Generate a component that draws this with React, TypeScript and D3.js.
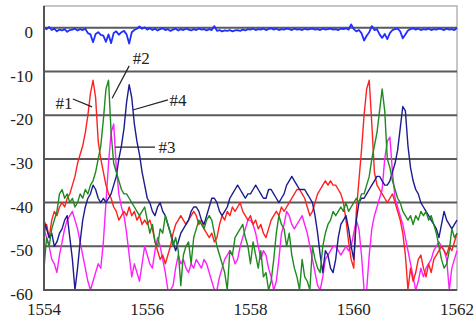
import { useEffect, useRef } from "react";
import * as d3 from "d3";

// wavelength grid of the traces (nm)
const wlStart = 1554;
const wlStep = 0.05;

const xTicks = [1554, 1556, 1558, 1560, 1562];
const yTicks = [0, -10, -20, -30, -40, -50, -60];

// top trace, near 0 dB
const blueTrace = [
  0, -0.3, 0.2, -0.5, -0.2, -0.8, -0.4, -0.6, -0.3, -0.9, -0.5, -0.4, -0.2, -0.6, -0.3, -0.5, -0.2, -1.2, -1.5, -3.3,
  -1.4, -1.0, -1.6, -1.8, -3.2, -1.5, -3.5, -1.2, -0.8, -1.6, -1.0, -0.7, -1.5, -3.6, -1.0, -0.5, -0.2, 0.3, -0.2, 0.1,
  -0.4, -0.1, -0.5, -0.2, -0.6, -0.3, -0.1, -0.5, -0.3, -0.7, -0.4, -0.2, -0.6, -0.3, -0.5, -0.2, -0.4, -0.6, -0.3, -0.5,
  -0.2, -0.4, -0.3, -0.6, -0.3, -0.5, 0.4, -0.7, -0.5, -0.8, -0.6, -0.7, -0.5, -0.8, -0.6, -0.5, -0.7, -0.4, -0.6, -0.3,
  -0.4, -0.2, -0.5, -0.3, -0.4, -0.2, -0.5, -0.3, -0.1, -0.4, -0.2, -0.5, -0.3, -0.4, -0.2, -0.3, -0.5, -0.2, -0.4, -0.3,
  -0.5, -0.2, -0.4, -0.3, -0.2, -0.4, -0.3, -0.5, -0.2, -0.4, -0.3, -0.2, -0.4, -0.3, -0.5, -0.2, -0.3, -0.1, -0.4, 0.8,
  -0.3, -0.8, -0.5, -1.2, -2.9, -1.8, -1.0, 0.4, -0.5, -0.3, -1.5, -2.3, -1.4, -2.6, -1.2, -0.5, -0.3, -0.2, -0.8, -2.4,
  -1.5, -0.6, -0.3, -0.1, -0.4, -0.2, -0.5, -0.3, -0.4, -0.2, -0.5, -0.3, -0.4, -0.2, -0.3, -0.5, -0.2, -0.4, -0.3, -0.5,
  0,
];

// #1
const redTrace = [
  -47, -45, -48, -44, -42, -43, -41, -40, -41, -39, -38, -36, -34, -31, -29, -27, -24, -20, -15, -12,
  -16, -26, -30, -33, -36, -38, -39, -41, -42, -44, -43, -42, -43, -41, -43, -42, -44, -43, -45, -44,
  -45, -44, -46, -49, -51, -53, -52, -54, -52, -50, -47, -45, -44, -43, -44, -45, -44, -43, -42, -43,
  -45, -44, -46, -47, -48, -47, -49, -48, -45, -43, -44, -42, -43, -41, -42, -41, -40, -42, -43, -44,
  -43, -45, -44, -46, -45, -47, -48, -46, -44, -43, -42, -43, -41, -42, -41, -40, -39, -38, -37, -37,
  -38, -39, -41, -43, -42, -40, -38, -37, -36, -35, -36, -35, -36, -36, -37, -38, -40, -44, -49, -53,
  -55, -42, -35, -28, -20, -14, -12, -22, -33, -36, -37, -38, -39, -40, -39, -38, -40, -42, -44, -47,
  -52, -60, -55, -58, -56, -53, -52, -55, -57, -54, -56, -53, -52, -51, -50, -51, -52, -50, -51, -49,
  -47,
];

// #2
const greenTrace = [
  -55, -48, -50, -46, -44, -42, -38, -37, -39, -38, -40, -39, -41, -40, -38, -39, -37, -38, -36, -35,
  -33, -30, -27, -21, -14, -12, -24, -31, -33, -35, -37, -38, -38, -39, -40, -41, -42, -43, -42, -41,
  -44, -47, -45, -49, -50, -46, -47, -43, -45, -47, -50, -48, -51, -59, -52, -50, -49, -54, -48, -46,
  -44, -45, -46, -44, -43, -44, -47, -50, -52, -54, -56, -60, -51, -52, -48, -47, -46, -45, -48, -50,
  -54, -49, -52, -55, -51, -57, -56, -60, -58, -53, -47, -43, -45, -46, -50, -47, -52, -55, -57, -60,
  -53, -57, -58, -60, -50, -53, -55, -56, -50, -47, -45, -44, -42, -43, -42, -41, -42, -40, -42, -41,
  -40, -39, -40, -38, -38, -36, -34, -30, -27, -24, -19, -14, -19, -30, -32, -35, -37, -39, -40, -42,
  -43, -44, -43, -45, -43, -44, -42, -43, -42, -44, -43, -45, -47, -50, -53, -55, -54, -51, -46, -48,
  -47,
];

// #3
const magentaTrace = [
  -46, -48, -50, -53, -54, -56, -52, -49, -46, -44, -43, -42, -44, -46, -49, -52, -55, -58, -60, -58,
  -56, -54, -55, -49, -40, -31, -24, -22, -32, -38, -41, -43, -47, -52, -57, -54, -56, -58, -54, -50,
  -52, -54, -55, -51, -48, -50, -53, -56, -60, -60, -59, -55, -52, -54, -53, -55, -56, -54, -55, -53,
  -54, -55, -53, -54, -56, -58, -60, -60, -57, -55, -53, -52, -51, -52, -54, -53, -50, -48, -46, -44,
  -44, -45, -47, -50, -53, -51, -52, -55, -57, -60, -58, -53, -47, -45, -42, -43, -45, -46, -45, -44,
  -43, -45, -47, -50, -53, -56, -59, -60, -57, -53, -52, -51, -50, -50, -51, -52, -51, -50, -51, -50,
  -47, -44, -46, -52, -60, -60, -52, -46, -43, -41, -39, -37, -30, -26, -25, -33, -39, -41, -43, -45,
  -48, -51, -54, -57, -60, -58, -55, -57, -55, -54, -53, -51, -50, -49, -50, -51, -53, -60, -55, -53,
  -51,
];

// #4
const navyTrace = [
  -44, -46, -48, -47, -50, -49, -47, -46, -44, -43, -48, -53, -60, -55, -49, -44, -41, -39, -38, -36,
  -37, -39, -40, -39, -40, -39, -38, -36, -34, -30, -27, -23, -17, -13, -16, -22, -26, -29, -33, -36,
  -39, -40, -42, -43, -41, -40, -42, -43, -45, -47, -49, -51, -49, -47, -46, -45, -44, -42, -41, -41,
  -42, -44, -45, -43, -41, -39, -39, -40, -42, -43, -42, -41, -39, -38, -37, -36, -37, -38, -39, -38,
  -38, -37, -36, -37, -38, -39, -39, -37, -37, -38, -39, -40, -39, -38, -36, -35, -34, -35, -36, -37,
  -37, -37, -38, -39, -40, -43, -47, -52, -56, -51, -52, -55, -56, -53, -48, -45, -44, -43, -46, -50,
  -53, -44, -40, -39, -39, -38, -37, -36, -35, -34, -34, -35, -36, -36, -35, -33, -31, -28, -23, -18,
  -19, -27, -32, -35, -37, -38, -40, -41, -42, -43, -44, -45, -46, -48, -45, -42, -44, -45, -46, -45,
  -44,
];

const W = 474;
const H = 320;

export default function App() {
  const ref = useRef<SVGSVGElement | null>(null);

  useEffect(() => {
    if (!ref.current) return;
    const svg = d3.select(ref.current);
    svg.selectAll("*").remove();

    const x = d3.scaleLinear().domain([1554, 1562]).range([44, 457]);
    const y = d3.scaleLinear().domain([-60, 5]).range([290, 6]);
    const font = "'Liberation Serif', 'Times New Roman', serif";

    // frame (light top/right)
    svg
      .append("rect")
      .attr("x", x(1554))
      .attr("y", y(5))
      .attr("width", x(1562) - x(1554))
      .attr("height", y(-60) - y(5))
      .attr("fill", "#fff")
      .attr("stroke", "#b4b4b4")
      .attr("stroke-width", 1.5);

    // grid lines
    svg
      .append("g")
      .selectAll("line")
      .data(yTicks.filter((t) => t > -60))
      .join("line")
      .attr("x1", x(1554))
      .attr("x2", x(1562))
      .attr("y1", (d) => y(d))
      .attr("y2", (d) => y(d))
      .attr("stroke", "#5a5a5a")
      .attr("stroke-width", 2);

    const line = (vals: number[]) =>
      d3
        .line<number>()
        .x((_, i) => x(wlStart + i * wlStep))
        .y((d) => y(d))(vals) ?? "";

    const traces: [number[], string][] = [
      [blueTrace, "#1f2fff"],
      [magentaTrace, "#ff20ff"],
      [redTrace, "#ff2020"],
      [navyTrace, "#1c1c90"],
      [greenTrace, "#1f8a1f"],
    ];
    svg
      .append("g")
      .selectAll("path")
      .data(traces)
      .join("path")
      .attr("d", (d) => line(d[0]))
      .attr("fill", "none")
      .attr("stroke", (d) => d[1])
      .attr("stroke-width", (d, i) => (i === 0 ? 1.8 : 1.4))
      .attr("stroke-linejoin", "round");

    // axes lines (left + bottom, dark)
    svg
      .append("path")
      .attr("d", `M${x(1554)},${y(5)}V${y(-60)}H${x(1562)}`)
      .attr("fill", "none")
      .attr("stroke", "#555")
      .attr("stroke-width", 2);

    svg
      .append("g")
      .selectAll("text")
      .data(yTicks)
      .join("text")
      .attr("x", 33)
      .attr("y", (d) => y(d) + 10)
      .attr("text-anchor", "end")
      .attr("font-family", font)
      .attr("font-size", 17)
      .attr("fill", "#222")
      .text((d) => String(d));

    svg
      .append("g")
      .selectAll("text")
      .data(xTicks)
      .join("text")
      .attr("x", (d) => x(d))
      .attr("y", 315)
      .attr("text-anchor", "middle")
      .attr("font-family", font)
      .attr("font-size", 17)
      .attr("fill", "#222")
      .text((d) => String(d));

    // peak labels with leader lines (data coords)
    const notes = [
      { label: "#1", from: [1554.56, -16.3], to: [1554.93, -18.1], tx: [1554.55, -18.5], anchor: "end" },
      { label: "#2", from: [1555.65, -8.7], to: [1555.32, -16.1], tx: [1555.72, -8.2], anchor: "start" },
      { label: "#3", from: [1555.38, -27.3], to: [1556.15, -27.3], tx: [1556.22, -28.7], anchor: "start" },
      { label: "#4", from: [1555.72, -18.8], to: [1556.4, -16.5], tx: [1556.43, -17.9], anchor: "start" },
    ];
    const g = svg.append("g");
    g.selectAll("line")
      .data(notes)
      .join("line")
      .attr("x1", (d) => x(d.from[0]))
      .attr("y1", (d) => y(d.from[1]))
      .attr("x2", (d) => x(d.to[0]))
      .attr("y2", (d) => y(d.to[1]))
      .attr("stroke", "#222")
      .attr("stroke-width", 1.2);
    g.selectAll("text")
      .data(notes)
      .join("text")
      .attr("x", (d) => x(d.tx[0]))
      .attr("y", (d) => y(d.tx[1]))
      .attr("text-anchor", (d) => d.anchor)
      .attr("font-family", font)
      .attr("font-size", 17)
      .attr("fill", "#222")
      .text((d) => d.label);
  }, []);

  return (
    <svg
      ref={ref}
      width={W}
      height={H}
      style={{ position: "absolute", left: 0, top: 0, background: "#fff" }}
    />
  );
}
